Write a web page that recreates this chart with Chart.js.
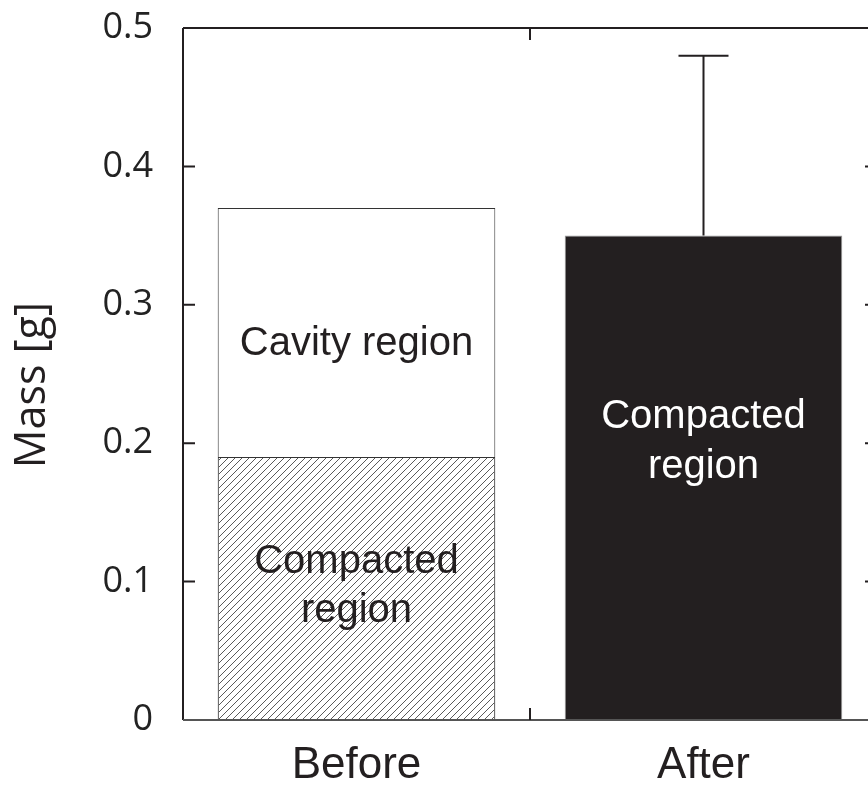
<!DOCTYPE html>
<html>
<head>
<meta charset="utf-8">
<script src="https://cdn.jsdelivr.net/npm/chart.js@4.4.1/dist/chart.umd.min.js"></script>
<style>
  html, body { margin: 0; padding: 0; background: #fff; overflow: hidden; }
  #wrap { width: 868px; height: 787px; overflow: hidden; }
  #wrap canvas { display: block; }
</style>
</head>
<body>
<div id="wrap"><canvas id="c" width="900" height="787"></canvas></div>
<script>
// data
const categories = ['Before', 'After'];
const compacted = [0.19, 0.35];
const cavity = [0.18, 0];
const errUpper = [null, 0.48];
const yTicks = [0, 0.1, 0.2, 0.3, 0.4, 0.5];
const yTitle = 'Mass [g]';

function hatch() {
    let p = document.createElement('canvas');
    p.width = 7; p.height = 7;
    let g = p.getContext('2d');
    g.strokeStyle = '#5a5a5a';
    g.lineWidth = 1;
    g.beginPath();
    g.moveTo(-1, 8); g.lineTo(8, -1);
    g.moveTo(-1, 1); g.lineTo(1, -1);
    g.moveTo(6, 8); g.lineTo(8, 6);
    g.stroke();
    return g.createPattern(p, 'repeat');
}

const ink = '#231f20';

const extras = {
    id: 'extras',
    afterDatasetsDraw(chart) {
        const ctx = chart.ctx;
        const a = chart.chartArea;
        const y = chart.scales.y;
        const x = chart.scales.x;
        ctx.save();

        // error bar
        const metaC = chart.getDatasetMeta(0);
        errUpper.forEach((v, i) => {
            if (v == null) return;
            const bar = metaC.data[i];
            const yt = y.getPixelForValue(v);
            ctx.strokeStyle = ink;
            ctx.lineWidth = 2;
            ctx.beginPath();
            ctx.moveTo(bar.x, bar.y);
            ctx.lineTo(bar.x, yt);
            ctx.moveTo(bar.x - 25, yt);
            ctx.lineTo(bar.x + 25, yt);
            ctx.stroke();
        });

        // text inside bars
        ctx.textAlign = 'center';
        ctx.textBaseline = 'middle';
        ctx.font = '40px "Liberation Sans", Arial, sans-serif';
        const bx0 = metaC.data[0].x;
        const bx1 = metaC.data[1].x;
        ctx.fillStyle = ink;
        ctx.fillText('Cavity region', bx0, y.getPixelForValue(0.272));
        ctx.fillText('Compacted', bx0, y.getPixelForValue(0.114));
        ctx.fillText('region', bx0, y.getPixelForValue(0.079));
        ctx.fillStyle = '#ffffff';
        ctx.fillText('Compacted', bx1, y.getPixelForValue(0.219));
        ctx.fillText('region', bx1, y.getPixelForValue(0.183));

        // y title, a bit below the centre like the original
        ctx.save();
        ctx.translate(33, y.getPixelForValue(0.242));
        ctx.rotate(-Math.PI / 2);
        ctx.fillStyle = ink;
        ctx.font = '43px "Open Sans", sans-serif';
        ctx.fillText(yTitle, 0, 0);
        ctx.restore();

        // frame
        ctx.strokeStyle = ink;
        ctx.lineWidth = 2;
        ctx.beginPath();
        ctx.moveTo(a.left, a.top);
        ctx.lineTo(a.right, a.top);
        ctx.moveTo(a.left, a.top);
        ctx.lineTo(a.left, a.bottom);
        ctx.moveTo(a.right, a.top);
        ctx.lineTo(a.right, a.bottom);
        ctx.stroke();
        ctx.strokeStyle = '#555';
        ctx.beginPath();
        ctx.moveTo(a.left, a.bottom);
        ctx.lineTo(a.right, a.bottom);
        ctx.stroke();

        // inward ticks
        ctx.strokeStyle = ink;
        ctx.lineWidth = 2;
        ctx.beginPath();
        yTicks.forEach(v => {
            const py = y.getPixelForValue(v);
            if (v === 0 || v === 0.5) return;
            ctx.moveTo(a.left, py); ctx.lineTo(a.left + 12, py);
            ctx.moveTo(a.right, py); ctx.lineTo(a.right - 12, py);
        });
        const mid = (x.getPixelForValue(0) + x.getPixelForValue(1)) / 2;
        ctx.moveTo(mid, a.top); ctx.lineTo(mid, a.top + 12);
        ctx.moveTo(mid, a.bottom); ctx.lineTo(mid, a.bottom - 12);
        ctx.stroke();

        ctx.restore();
    }
};

new Chart(document.getElementById('c'), {
    type: 'bar',
    data: {
        labels: categories,
        datasets: [
            {
                label: 'Compacted region',
                data: compacted,
                backgroundColor: [hatch(), ink],
                borderColor: ['#333', '#9a9a9a'],
                borderWidth: 1,
                barPercentage: 0.8,
                categoryPercentage: 1.0
            },
            {
                label: 'Cavity region',
                data: cavity,
                backgroundColor: '#ffffff',
                borderColor: '#333',
                borderWidth: 1,
                barPercentage: 0.8,
                categoryPercentage: 1.0
            }
        ]
    },
    options: {
        responsive: false,
        animation: false,
        layout: { padding: { top: 28, right: 23, left: 0, bottom: 0 } },
        plugins: {
            legend: { display: false },
            tooltip: { enabled: false }
        },
        scales: {
            x: {
                stacked: true,
                grid: { display: false, drawTicks: false },
                border: { display: false },
                afterFit: s => { s.height = 67; s.paddingLeft = 0; s.paddingRight = 0; },
                ticks: {
                    color: ink,
                    padding: 19,
                    font: { family: '"Liberation Sans", Arial, sans-serif', size: 44 }
                }
            },
            y: {
                stacked: true,
                min: 0,
                max: 0.5,
                grid: { display: false, drawTicks: false },
                border: { display: false },
                afterFit: s => { s.width = 183; s.paddingTop = 0; s.paddingBottom = 0; },
                afterBuildTicks: s => { s.ticks = yTicks.map(v => ({ value: v })); },
                title: { display: false },
                ticks: {
                    color: '#222',
                    padding: 30,
                    font: { family: '"Open Sans", sans-serif', size: 36 },
                    callback: v => v === 0 ? '0' : v.toFixed(1)
                }
            }
        }
    },
    plugins: [extras]
});
</script>
</body>
</html>
